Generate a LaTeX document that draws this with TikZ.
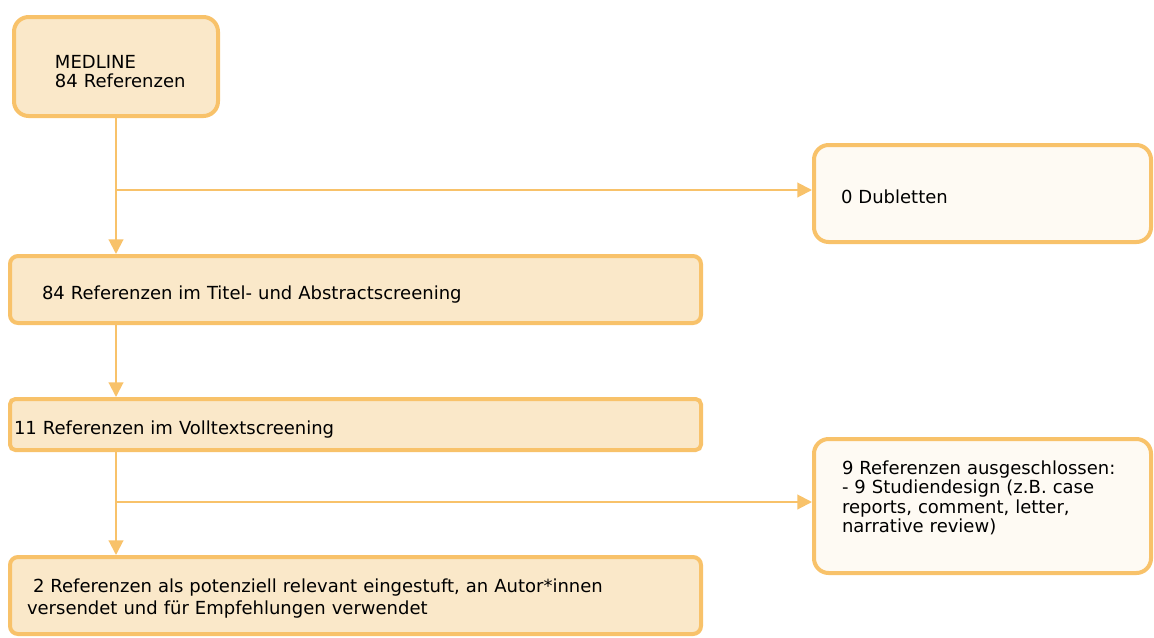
\documentclass[tikz,border=0pt]{standalone}
\usepackage{fontspec}
\setmainfont{DejaVu Sans}
\usepackage{xcolor}
\usetikzlibrary{arrows.meta,positioning,calc}
\definecolor{boxline}{HTML}{F8C26A}
\definecolor{boxfill}{HTML}{FAE8C9}
\definecolor{sidefill}{HTML}{FEFAF3}
% Text im Kasten, senkrecht verschoben
\newcommand{\boxtext}[2]{\raisebox{#1}[\height][\depth]{\begin{tabular}{@{}l@{}}#2\end{tabular}}}
\tikzset{
  box/.style={draw=boxline, line width=3pt, fill=boxfill, align=left, inner ysep=0pt, font=\fontsize{13.5}{13.8}\selectfont},
  main/.style={box, rounded corners=6pt},
  side/.style={box, fill=sidefill, rounded corners=11pt},
  arr/.style={-{Triangle[length=11pt, width=11pt]}, line width=1.5pt, boxline},
}
\begin{document}
\begin{tikzpicture}[x=0.75pt, y=-0.75pt]
\useasboundingbox (0,0) rectangle (1154,637);
\node[side, fill=boxfill, minimum width=153pt, minimum height=74.25pt, inner xsep=30.75pt, text width=91.5pt] (med) at (116,66.5) {\boxtext{-5.5pt}{MEDLINE\\84 Referenzen}};
\node[side, minimum width=252.75pt, minimum height=72.75pt, inner xsep=20.25pt, text width=212.25pt] (dub) at (982.5,193.5) {\boxtext{-4.5pt}{0 Dubletten}};
\node[main, minimum width=518.25pt, minimum height=50.25pt, inner xsep=24pt, text width=470.25pt] (titel) at (355.5,289.5) {\boxtext{-4.5pt}{84 Referenzen im Titel- und Abstractscreening}};
\node[main, rounded corners=4pt, minimum width=518.25pt, minimum height=38.25pt, inner xsep=3pt, text width=512.25pt] (voll) at (355.5,424.5) {\boxtext{-4.5pt}{11 Referenzen im Volltextscreening}};
\node[side, minimum width=252.75pt, minimum height=100.5pt, inner xsep=21pt, text width=210.75pt] (aus) at (982.5,506) {\boxtext{5pt}{9 Referenzen ausgeschlossen:\\- 9 Studiendesign (z.B. case\\reports, comment, letter,\\narrative review)}};
\node[main, minimum width=518.25pt, minimum height=57.75pt, inner xsep=12.75pt, text width=492.75pt, font=\fontsize{13.5}{16.5}\selectfont] (fin) at (355.5,595.5) {\boxtext{-2.5pt}{\ 2 Referenzen als potenziell relevant eingestuft, an Autor*innen\\versendet und für Empfehlungen verwendet}};
% Flussrichtung
\coordinate (b1) at (med.south |- 0,190);
\coordinate (b2) at (med.south |- 0,502);
\draw[arr] (med.south) -- (med.south |- titel.north);
\draw[arr] (b1) -- (b1 -| dub.west);
\draw[arr] (med.south |- titel.south) -- (med.south |- voll.north);
\draw[arr] (med.south |- voll.south) -- (med.south |- fin.north);
\draw[arr] (b2) -- (b2 -| aus.west);
\end{tikzpicture}
\end{document}
